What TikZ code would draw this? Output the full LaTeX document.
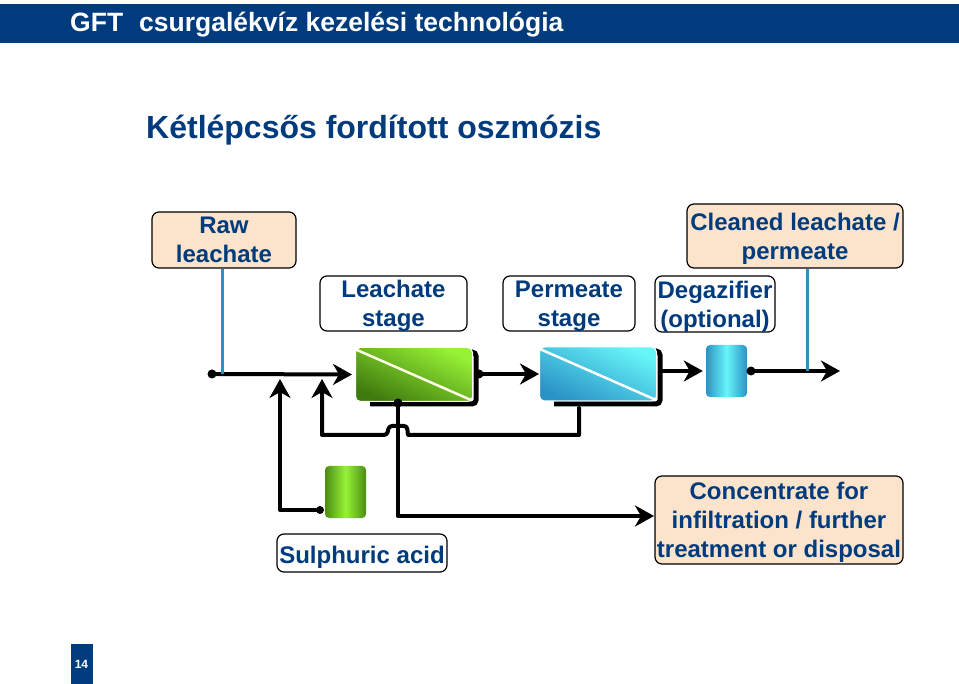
\documentclass[tikz,border=0pt]{standalone}
\usepackage{fontspec}
\setmainfont{Liberation Sans}
\usepackage{tikz}
\usetikzlibrary{arrows.meta,positioning,calc}
\definecolor{navy}{HTML}{003B7D}
\definecolor{peach}{HTML}{FCE4CC}
\definecolor{pipeblue}{HTML}{2F8FBF}
\definecolor{grnlight}{HTML}{96F236}
\definecolor{grndark}{HTML}{3F7A0E}
\definecolor{cyanlight}{HTML}{66F5F8}
\definecolor{cyandark}{HTML}{2A93C6}

\begin{document}
\begin{tikzpicture}[
    x=1pt, y=-1pt,
    box/.style={draw=black, line width=1.2pt, rounded corners=7pt, align=center, inner sep=0pt, text=navy, text depth=0pt, execute at begin node={\rule{0pt}{21.5pt}}, font=\fontsize{24}{29}\selectfont\bfseries},
    peachbox/.style={box, fill=peach},
    membrane/.style={draw=white, line width=1pt, rounded corners=5pt, minimum width=117pt, minimum height=54pt, inner sep=0pt},
    tank/.style={rounded corners=4pt, minimum width=41pt, minimum height=52pt, inner sep=0pt},
    dot/.style={circle, fill=black, minimum size=9pt, inner sep=0pt},
    pipe/.style={line width=4pt, line cap=round, line join=round},
    arr/.style={pipe, -{Stealth[length=19pt,width=21pt,inset=6pt]}},
    feedline/.style={pipeblue, line width=3pt}
]
\useasboundingbox (0,0) rectangle (959,684);
% header and page number
\node[fill=navy, minimum width=959pt, minimum height=39pt, inner sep=0pt] (header) at (479.5,23.5) {};
\node[anchor=west, inner sep=0pt, text=white, font=\fontsize{26.5}{30}\selectfont\bfseries] (headtext) at (70,25) {GFT\hspace{16pt}csurgalékvíz kezelési technológia};
\node[anchor=west, inner sep=0pt, text=navy, font=\fontsize{32}{36}\selectfont\bfseries] (title) at (146,130) {Kétlépcsős fordított oszmózis};
\node[fill=navy, minimum width=22pt, minimum height=40pt, inner sep=0pt, text=white, font=\fontsize{12}{14}\selectfont\bfseries] (pagenum) at (81.5,664) {14};

% labels
\node[peachbox, minimum width=144pt, minimum height=56pt] (raw) at (224,240) {Raw\\leachate};
\node[box, fill=white, minimum width=147pt, minimum height=55pt] (leachate) at (393.5,303.5) {Leachate\\stage};
\node[box, fill=white, minimum width=132pt, minimum height=55pt] (permeate) at (569,303.5) {Permeate\\stage};
\node[box, fill=white, minimum width=120pt, minimum height=56pt] (degaz) at (715,304) {Degazifier\\(optional)};
\node[peachbox, minimum width=216pt, minimum height=64pt] (cleaned) at (795,236) {Cleaned leachate /\\permeate};
\node[box, fill=white, minimum width=170pt, minimum height=38pt] (acid) at (362,553) {Sulphuric acid};
\node[peachbox, minimum width=248pt, minimum height=88pt] (conc) at (779,520) {Concentrate for\\infiltration / further\\treatment or disposal};

% shadow corners behind the membranes
\draw[line width=5pt, rounded corners=4pt] (470,352) -- (476,352) -- (476,404) -- (370,404);
\draw[line width=5pt, rounded corners=4pt] (654,351) -- (660,351) -- (660,404) -- (554,404);

% units
\node[membrane, bottom color=grndark, top color=grnlight, shading angle=-25] (mone) at (414,374.5) {};
\node[membrane, bottom color=cyandark, top color=cyanlight, shading angle=-25] (mtwo) at (598,374) {};
\draw[white!90!yellow, line width=2.5pt] (mone.north west) ++(2,3) -- ($(mone.south east)+(-2,-2)$);
\draw[white, line width=2.5pt] (mtwo.north west) ++(2,3) -- ($(mtwo.south east)+(-2,-2)$);
\node[tank, left color=cyandark, right color=cyandark, middle color=cyanlight] (degtank) at (726.5,371) {};
\node[tank, left color=grndark!85!grnlight, right color=grndark!85!grnlight, middle color=grnlight] (acidtank) at (345.5,492) {};

% junctions
\node[dot] (start) at (212,374) {};
\node[dot] (oneout) at (479,374) {};
\node[dot] (onebot) at (398,403) {};
\node[dot] (degout) at (751,371) {};
\node[dot, minimum size=8pt] (acidout) at (320,510) {};
\coordinate (twoout) at (661,371);
\coordinate (twobot) at (579,408);
\coordinate (rawin) at (222,374);
\coordinate (cleanin) at (807,371);
\coordinate (endclean) at (840,371);
\coordinate (acidtip) at (280,379);
\coordinate (rectip) at (322,379);
\coordinate (conctip) at (654,516);

% pipes
\draw[arr, shorten >=3pt] (start) -- (mone.west);
\draw[arr] (oneout) -- (mtwo.west);
\draw[arr, shorten >=3pt] (twoout) -- (degtank.west);
\draw[arr] (degout) -- (endclean);
\draw[arr] (acidout) -| (acidtip);
\draw[arr] (onebot) |- (conctip);
\draw[arr] (twobot) |- (408,435) [rounded corners=3pt] -- (407,426) -- (389,426) -- (387,435) [sharp corners] -| (rectip);
\draw[feedline] (raw.south -| rawin) -- (rawin);
\draw[feedline] (cleaned.south -| cleanin) -- (cleanin);
\end{tikzpicture}
\end{document}
